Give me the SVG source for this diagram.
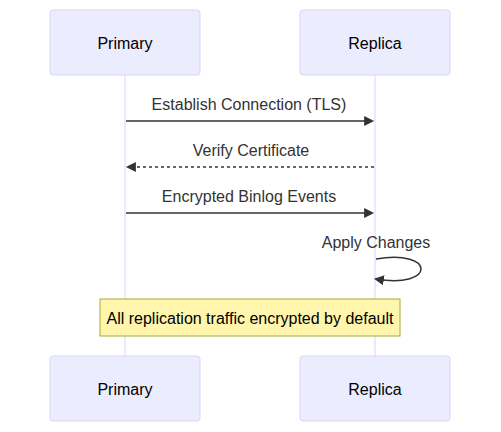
<svg xmlns="http://www.w3.org/2000/svg" width="501" height="432" viewBox="0 0 501 432">
<style>
.actor{fill:#ECECFF;stroke:#DDD3F5;stroke-width:1}
.atext{font-family:"Liberation Sans",Arial,sans-serif;font-size:16px;fill:#000;text-anchor:middle;dominant-baseline:central}
.life{stroke:#DDD3F5;stroke-width:1}
.msg{stroke:#333;stroke-width:1.5;fill:none}
.dash{stroke-dasharray:3,3}
.mtext{font-family:"Liberation Sans",Arial,sans-serif;font-size:16px;fill:#333;text-anchor:middle;dominant-baseline:central}
.note{fill:#FFF5AD;stroke:#AAAA33;stroke-width:1}
.ntext{font-family:"Liberation Sans",Arial,sans-serif;font-size:16px;fill:#000;text-anchor:middle;dominant-baseline:central}
</style>
<defs>
<marker id="ah" viewBox="0 0 12 12" refX="7.9" refY="5" markerWidth="12" markerHeight="12" markerUnits="userSpaceOnUse" orient="auto">
<path d="M0,0 L10,5 L0,10 z" fill="#333"/>
</marker>
</defs>
<g id="lifelines">
<line class="life" x1="125" y1="75" x2="125" y2="356"/>
<line class="life" x1="375" y1="75" x2="375" y2="356"/>
</g>
<g id="primary-top"><rect class="actor" x="50" y="10" width="150" height="65" rx="3"/><text class="atext" x="125" y="43">Primary</text></g>
<g id="replica-top"><rect class="actor" x="300" y="10" width="150" height="65" rx="3"/><text class="atext" x="375" y="43">Replica</text></g>
<g id="primary-bottom"><rect class="actor" x="50" y="356" width="150" height="65" rx="3"/><text class="atext" x="125" y="389">Primary</text></g>
<g id="replica-bottom"><rect class="actor" x="300" y="356" width="150" height="65" rx="3"/><text class="atext" x="375" y="389">Replica</text></g>
<g id="connectors">
<text class="mtext" x="249" y="104">Establish Connection (TLS)</text>
<line class="msg" x1="126" y1="121" x2="372" y2="121" marker-end="url(#ah)"/>
<text class="mtext" x="251" y="150">Verify Certificate</text>
<line class="msg dash" x1="374" y1="167" x2="128" y2="167" marker-end="url(#ah)"/>
<text class="mtext" x="249" y="196">Encrypted Binlog Events</text>
<line class="msg" x1="126" y1="213" x2="372" y2="213" marker-end="url(#ah)"/>
<text class="mtext" x="376" y="242">Apply Changes</text>
<path class="msg" d="M376,259 C436,249 436,289 376,279" marker-end="url(#ah)"/>
</g>
<g id="note"><rect class="note" x="100" y="299" width="300" height="37"/><text class="ntext" x="250" y="318">All replication traffic encrypted by default</text></g>
</svg>
